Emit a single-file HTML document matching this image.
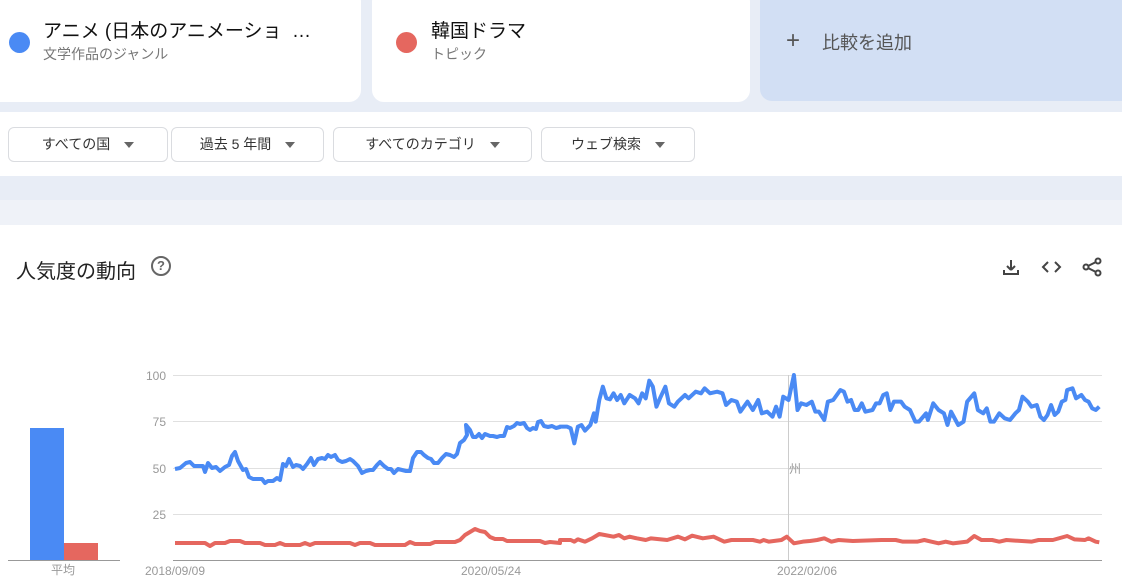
<!DOCTYPE html>
<html><head><meta charset="utf-8"><style>
*{margin:0;padding:0;box-sizing:border-box}
body{width:1122px;height:582px;overflow:hidden;background:#fff;font-family:"Liberation Sans","Noto Sans CJK JP",sans-serif;position:relative}
.a{position:absolute}
.card{position:absolute;top:-10px;height:112px;background:#fff;border-radius:12px}
.dd{position:absolute;top:127px;height:35px;border:1px solid #dadce0;border-radius:6px;background:#fff;font-size:14px;color:#333;line-height:33px;text-align:center}
.dd i{display:inline-block;width:0;height:0;border-left:5px solid transparent;border-right:5px solid transparent;border-top:6px solid #666;margin-left:14px;vertical-align:middle}
</style></head><body>
<div class="a" style="left:0;top:0;width:1122px;height:112px;background:#e8edf6"></div>
<div class="card" style="left:-12px;width:373px"></div>
<div class="card" style="left:372px;width:378px"></div>
<div class="card" style="left:760px;width:380px;height:111px;background:#d2dff4"></div>
<div class="a" style="left:9px;top:32px;width:21px;height:21px;border-radius:50%;background:#4a8af4"></div>
<div class="a" style="left:43px;top:16px;font-size:19px;color:#111">アニメ (日本のアニメーショ &nbsp;…</div>
<div class="a" style="left:43px;top:44px;font-size:14px;color:#777">文学作品のジャンル</div>
<div class="a" style="left:396px;top:32px;width:21px;height:21px;border-radius:50%;background:#e5675f"></div>
<div class="a" style="left:431px;top:16px;font-size:19px;color:#111">韓国ドラマ</div>
<div class="a" style="left:431px;top:44px;font-size:14px;color:#777">トピック</div>
<div class="a" style="left:786px;top:27px;font-size:24px;color:#555;font-weight:300">+</div>
<div class="a" style="left:822px;top:29px;font-size:18px;color:#555">比較を追加</div>
<div class="dd" style="left:8px;width:160px">すべての国<i></i></div>
<div class="dd" style="left:171px;width:153px">過去 5 年間<i></i></div>
<div class="dd" style="left:333px;width:199px">すべてのカテゴリ<i></i></div>
<div class="dd" style="left:541px;width:154px">ウェブ検索<i></i></div>
<div class="a" style="left:0;top:176px;width:1122px;height:24px;background:#e8edf6"></div>
<div class="a" style="left:0;top:200px;width:1122px;height:25px;background:#eff2f8"></div>
<div class="a" style="left:16px;top:255px;font-size:20px;color:#222">人気度の動向</div>
<div class="a" style="left:151px;top:256px;width:20px;height:20px;border:2px solid #666;border-radius:50%;font-size:13px;color:#666;text-align:center;line-height:16px;font-weight:bold">?</div>
<svg class="a" style="left:0;top:0" width="1122" height="582">
<g stroke="#444" stroke-width="2" fill="none">
<path d="M1011 260v10m0 0l-4-4m4 4l4-4M1004 270v4h14v-4"/>
<path d="M1048 262l-5 5 5 5M1055 262l5 5-5 5"/>
<circle cx="1098" cy="261" r="2.5"/><circle cx="1086" cy="267" r="2.5"/><circle cx="1098" cy="273" r="2.5"/>
<path d="M1088 266l8-4M1088 268l8 4"/>
</g>
<g stroke="#e0e0e0" stroke-width="1">
<line x1="173" y1="375.5" x2="1102" y2="375.5"/><line x1="173" y1="421.5" x2="1102" y2="421.5"/>
<line x1="173" y1="468.5" x2="1102" y2="468.5"/><line x1="173" y1="514.5" x2="1102" y2="514.5"/>
</g>
<line x1="788.5" y1="375" x2="788.5" y2="560" stroke="#ccc"/>
<line x1="173" y1="560.5" x2="1102" y2="560.5" stroke="#999"/>
<line x1="8" y1="560.5" x2="120" y2="560.5" stroke="#999"/>
<g font-size="12" fill="#999" text-anchor="end">
<text x="166" y="380">100</text><text x="166" y="426">75</text><text x="166" y="473">50</text><text x="166" y="519">25</text>
</g>
<g font-size="12" fill="#999" text-anchor="middle">
<text x="175" y="575">2018/09/09</text><text x="491" y="575">2020/05/24</text><text x="807" y="575">2022/02/06</text>
<text x="63" y="574">平均</text><text x="795" y="473">州</text>
</g>
<rect x="30" y="428" width="34" height="132" fill="#4a8af4"/>
<rect x="64" y="543" width="34" height="17" fill="#e5675f"/>
<polyline id="b" fill="none" stroke="#4a8af4" stroke-width="4" stroke-linejoin="round"/>
<polyline id="r" fill="none" stroke="#e5675f" stroke-width="4" stroke-linejoin="round"/>
</svg>
<script>
var b1=[175,469,180,468,186,463,190,462,194,466,198,466,203,466,205,472,208,463,212,468,216,467,220,471,225,467,229,465,232,456,235,452,238,461,243,470,246,469,249,477,253,479,258,479,262,479,265,483,268,481,273,481,277,478,280,480,283,464,286,466,289,459,293,467,296,465,300,466,303,469,307,464,311,458,314,465,318,459,322,458,325,459,328,455,331,457,335,455,338,460,342,462,346,461,350,459,353,461,358,466,362,473,366,471,370,470,373,470,377,465,380,462,384,466,388,469,391,469,394,473,398,469,402,470,406,471,410,471,413,458,417,452,421,452,424,455,428,458,431,459,434,463,438,463,442,458,446,454,450,455,454,457,457,454,460,443,464,440,467,435,466,425,470,430,473,437,476,437,479,434,482,438,485,434,490,436,493,436,497,437,500,436,504,436,507,427,510,428,514,426,517,423,520,424,524,423,527,428,530,430,533,428,536,429,538,422,541,421,544,426,548,427,552,426,556,428,560,427];
var b2=[0,200,20,200,30,205,40,250,50,200,60,195,70,212,85,195,95,160,100,185,110,120,120,80,130,115,140,118,150,100,160,120,170,105,180,130,195,105,210,115,220,130,230,100,240,115,250,62,260,80,270,140,280,115,295,80,305,130,320,140,330,125,350,105,360,115,380,95,395,100,405,85,420,100,440,95,455,100,465,135,480,120,495,125,505,155,525,125,540,150,555,120,565,160,580,155,595,170,605,140,615,170,625,110,640,120,655,45,665,150,675,130,690,135,705,125,715,155,725,155,740,180,750,125,765,120,785,90,795,95,805,125,815,120,825,150,835,150,845,130,855,155,875,150,885,130,895,130,905,105,915,100,925,150,935,125,955,125,965,140,980,150,995,185,1005,185,1025,160,1030,180,1045,130,1060,150,1075,160,1085,195,1095,155,1115,195,1130,185,1140,125,1160,100,1170,150,1185,160,1195,145,1205,185,1215,185,1230,160,1245,175,1260,180,1275,160,1285,150,1295,110,1310,125,1320,140,1335,135,1345,170,1355,180,1365,165,1375,135,1385,165,1395,155,1405,125,1415,120,1420,90,1435,85,1445,115,1460,105,1470,120,1480,125,1490,145,1500,150,1510,140];
var r1=[175,543,205,543,210,546,215,543,225,543,230,541,240,541,245,543,260,543,265,545,275,545,280,543,285,545,300,545,305,543,310,545,315,543,350,543,355,545,360,543,370,543,375,545,405,545,410,542,415,544,430,544,435,542,455,542,460,540,465,535,475,529,480,531,485,532,490,537,495,539,503,539,507,541,540,541,545,543,550,542,560,543];
var r2=[0,540,30,540,40,545,50,538,70,545,90,535,110,522,125,525,150,530,165,525,180,535,195,530,215,535,240,540,255,535,300,540,330,530,350,538,370,527,400,535,430,530,460,545,480,540,540,540,560,545,570,540,585,545,620,540,635,530,655,550,680,545,700,543,720,540,740,535,760,545,780,540,820,543,900,540,940,540,960,545,1000,545,1020,540,1040,545,1060,550,1080,545,1100,550,1140,545,1160,528,1180,540,1210,540,1230,545,1250,540,1320,545,1340,540,1380,540,1420,528,1440,538,1470,540,1480,535,1500,545,1510,547];
function pts(a,z){var s=[];for(var i=0;i<a.length;i+=2){s.push(z?(560+a[i]/2.8)+","+(360+a[i+1]/3):a[i]+","+a[i+1]);}return s;}
document.getElementById('b').setAttribute('points',pts(b1,0).concat(pts(b2,1)).join(' '));
document.getElementById('r').setAttribute('points',pts(r1,0).concat(pts(r2,1)).join(' '));
</script>
</body></html>
